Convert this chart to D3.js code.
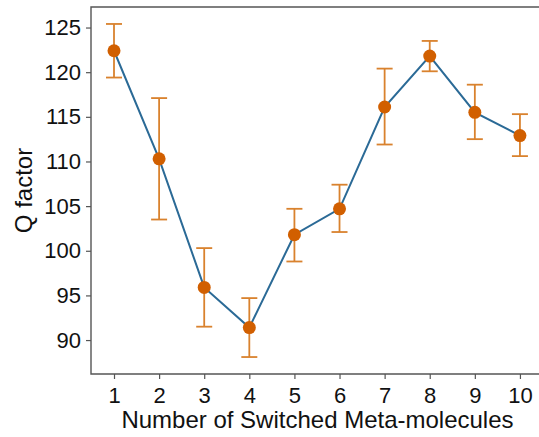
<!DOCTYPE html>
<html>
<head>
<meta charset="utf-8">
<script src="https://cdn.jsdelivr.net/npm/d3@7"></script>
<style>
  body { margin: 0; background: #fff; }
  svg { display: block; font-family: "Liberation Sans", Arial, sans-serif; }
</style>
</head>
<body>
<svg id="chart" width="539" height="437"></svg>
<script>
// number of switched meta-molecules
const counts = [1, 2, 3, 4, 5, 6, 7, 8, 9, 10];
// Q factor mean and error bar ends
const qMean = [122.4, 110.3, 95.9, 91.4, 101.8, 104.7, 116.1, 121.8, 115.5, 112.9];
const qLow  = [119.4, 103.5, 91.5, 88.1, 98.8, 102.1, 111.9, 120.1, 112.5, 110.6];
const qHigh = [125.4, 117.1, 100.3, 94.7, 104.7, 107.4, 120.4, 123.5, 118.6, 115.3];
const yTicks = [90, 95, 100, 105, 110, 115, 120, 125];

const svg = d3.select('#chart');
const plotLeft = 91, plotTop = 7, plotBottom = 374, plotRight = 547;

const x = d3.scaleLinear().domain([0.49, 10.6]).range([plotLeft, plotRight]);
const y = d3.scaleLinear().domain([86.2, 127.3]).range([plotBottom, plotTop]);

const axisColor = '#555';

// frame (left, top, bottom)
svg.append('path')
    .attr('d', `M${plotRight},${plotTop}H${plotLeft}V${plotBottom}H${plotRight}`)
    .attr('fill', 'none')
    .attr('stroke', axisColor)
    .attr('stroke-width', 1.4);

const xAxis = svg.append('g')
    .attr('transform', `translate(0,${plotBottom})`)
    .call(d3.axisBottom(x).tickValues(counts).tickSize(5).tickPadding(8).tickFormat(d3.format('d')));
const yAxis = svg.append('g')
    .attr('transform', `translate(${plotLeft},0)`)
    .call(d3.axisLeft(y).tickValues(yTicks).tickSize(5).tickPadding(5));

[xAxis, yAxis].forEach(g => {
    g.select('.domain').remove();
    g.selectAll('line').attr('stroke', axisColor).attr('stroke-width', 1.2);
    g.selectAll('text')
        .attr('fill', '#111')
        .style('font-size', '22px')
        .style('font-family', '"Liberation Sans", Arial, sans-serif');
});

// axis titles
svg.append('text')
    .attr('x', (x(1) + x(10)) / 2 + 0.5)
    .attr('y', 428)
    .attr('text-anchor', 'middle')
    .attr('fill', '#111')
    .style('font-size', '24px')
    .text('Number of Switched Meta-molecules');

svg.append('text')
    .attr('transform', `translate(32,${(plotTop + plotBottom) / 2}) rotate(-90)`)
    .attr('text-anchor', 'middle')
    .attr('fill', '#111')
    .style('font-size', '24px')
    .text('Q factor');

const data = counts.map((c, i) => ({ c, m: qMean[i], lo: qLow[i], hi: qHigh[i] }));

// error bars
const errColor = '#d9822e';
const eb = svg.append('g').attr('stroke', errColor).attr('stroke-width', 1.8);
eb.selectAll('line.v').data(data).enter().append('line')
    .attr('x1', d => x(d.c)).attr('x2', d => x(d.c))
    .attr('y1', d => y(d.lo)).attr('y2', d => y(d.hi));
eb.selectAll('line.t').data(data).enter().append('line')
    .attr('x1', d => x(d.c) - 8).attr('x2', d => x(d.c) + 8)
    .attr('y1', d => y(d.hi)).attr('y2', d => y(d.hi));
eb.selectAll('line.b').data(data).enter().append('line')
    .attr('x1', d => x(d.c) - 8).attr('x2', d => x(d.c) + 8)
    .attr('y1', d => y(d.lo)).attr('y2', d => y(d.lo));

// line
svg.append('path')
    .datum(data)
    .attr('fill', 'none')
    .attr('stroke', '#2b6a96')
    .attr('stroke-width', 2)
    .attr('d', d3.line().x(d => x(d.c)).y(d => y(d.m)));

// markers
svg.append('g')
    .selectAll('circle')
    .data(data)
    .enter().append('circle')
        .attr('cx', d => x(d.c))
        .attr('cy', d => y(d.m))
        .attr('r', 6.5)
        .attr('fill', '#d15f00');
</script>
</body>
</html>
